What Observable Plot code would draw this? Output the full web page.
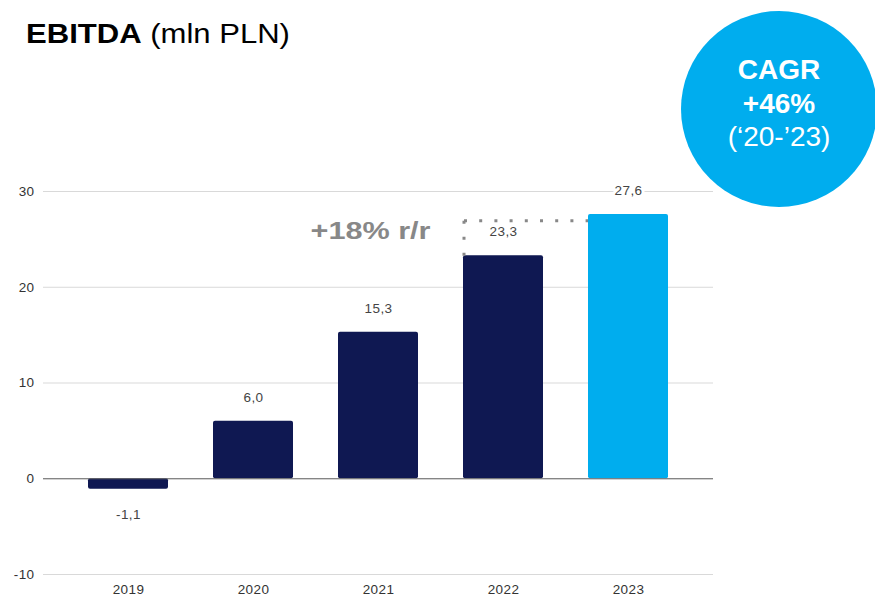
<!DOCTYPE html>
<html>
<head>
<meta charset="utf-8">
<script src="https://cdn.jsdelivr.net/npm/d3@7"></script>
<script src="https://cdn.jsdelivr.net/npm/@observablehq/plot@0.6"></script>
<style>
  html, body { margin: 0; padding: 0; background: #fff; overflow: hidden; }
  #wrap { position: relative; width: 875px; height: 597px; overflow: hidden; font-family: "Liberation Sans", Arial, Helvetica, sans-serif; }
  #chart { position: absolute; left: 0; top: 0; }
  #chart svg text { letter-spacing: 0.4px; }
  #title { position: absolute; left: 26px; top: 21px; font-size: 27px; line-height: 27px; color: #000; white-space: nowrap; transform: scaleX(1.15); transform-origin: 0 0; }
  #title b { font-weight: bold; }
  #circle { position: absolute; left: 681px; top: 11px; width: 196px; height: 196px; border-radius: 50%; background: #00adee; }
  .cl { position: absolute; left: 679px; width: 200px; text-align: center; color: #fff; font-size: 28px; line-height: 28px; white-space: nowrap; }
</style>
</head>
<body>
<div id="wrap">
  <div id="chart"></div>
  <div id="title"><b>EBITDA</b> (mln PLN)</div>
  <div id="circle"></div>
  <div class="cl" style="top:56px;font-weight:bold;">CAGR</div>
  <div class="cl" style="top:90px;font-weight:bold;">+46%</div>
  <div class="cl" style="top:123px;">(‘20-’23)</div>
</div>
<script>
// Data
const years = ["2019", "2020", "2021", "2022", "2023"];
const ebitda = [-1.1, 6.0, 15.3, 23.3, 27.6];
const yTicks = [-10, 0, 10, 20, 30];
const highlightYear = "2023";
// annotation: year-over-year growth 2022 -> 2023
const growthLabel = "+18% r/r";
const growthFrom = "2022";
const growthTo = "2023";
const growthLevel = 26.9;
const growthLabelYear = "2021";
const growthLabelValue = 25.8;

const data = years.map((y, i) => ({year: y, value: ebitda[i]}));
const fmt = v => v.toFixed(1).replace(".", ",");

const navy = "#0f1852";
const cyan = "#00adee";

const chart = Plot.plot({
  width: 875,
  height: 597,
  marginLeft: 43,
  marginRight: 162,
  marginTop: 191,
  marginBottom: 23,
  style: {fontFamily: "Liberation Sans, Arial, Helvetica, sans-serif", fontSize: "13.5px", color: "#333", background: "transparent"},
  x: {type: "band", domain: years, padding: 0.36, label: null},
  y: {domain: [-10, 30], label: null},
  marks: [
    Plot.gridY(yTicks, {stroke: "#d9d9d9", strokeOpacity: 1}),
    Plot.axisY(yTicks, {tickSize: 0, tickPadding: 9, label: null, fill: "#333", tickFormat: d => String(d)}),
    Plot.axisX({tickSize: 0, tickPadding: 10, label: null, fill: "#333"}),
    Plot.barY(data, {x: "year", y: "value", fill: d => d.year === highlightYear ? cyan : navy, rx: 2}),
    Plot.ruleY([0], {stroke: "#666", strokeWidth: 1}),
    Plot.text(data.filter(d => d.value >= 0), {x: "year", y: "value", text: d => fmt(d.value), dy: -23.5, fill: "#444", stroke: "white", strokeWidth: 6, paintOrder: "stroke", fontSize: 13.5}),
    Plot.text(data.filter(d => d.value < 0), {x: "year", y: "value", text: d => fmt(d.value), dy: 25.5, fill: "#444", stroke: "white", strokeWidth: 6, paintOrder: "stroke", fontSize: 13.5}),
    Plot.text([growthLabel], {x: () => growthLabelYear, y: () => growthLabelValue, text: d => d, dx: -8, fill: "#888", fontSize: 23.5, fontWeight: "bold"}),
    // dotted growth bracket
    (index, scales) => {
      const xs = scales.x, ys = scales.y;
      const x1 = xs(growthFrom), x2 = xs(growthTo);
      const yL = ys(growthLevel);
      const yB = ys(data.find(d => d.year === growthFrom).value);
      const g = d3.create("svg:g");
      g.append("path")
        .attr("d", `M${x1 + 1},${yL}H${x2}`)
        .attr("stroke", "#888").attr("stroke-width", 3).attr("fill", "none")
        .attr("stroke-dasharray", "3 12.2");
      g.append("path")
        .attr("d", `M${x1 + 1},${yL}V${yB + 5}`)
        .attr("stroke", "#888").attr("stroke-width", 3).attr("fill", "none")
        .attr("stroke-dasharray", "3 13");
      return g.node();
    }
  ]
});

d3.select(chart).selectAll("text").filter(function() { return this.textContent === growthLabel; })
  .attr("textLength", 120).attr("lengthAdjust", "spacingAndGlyphs").style("letter-spacing", "0");

document.getElementById("chart").appendChild(chart);
</script>
</body>
</html>
